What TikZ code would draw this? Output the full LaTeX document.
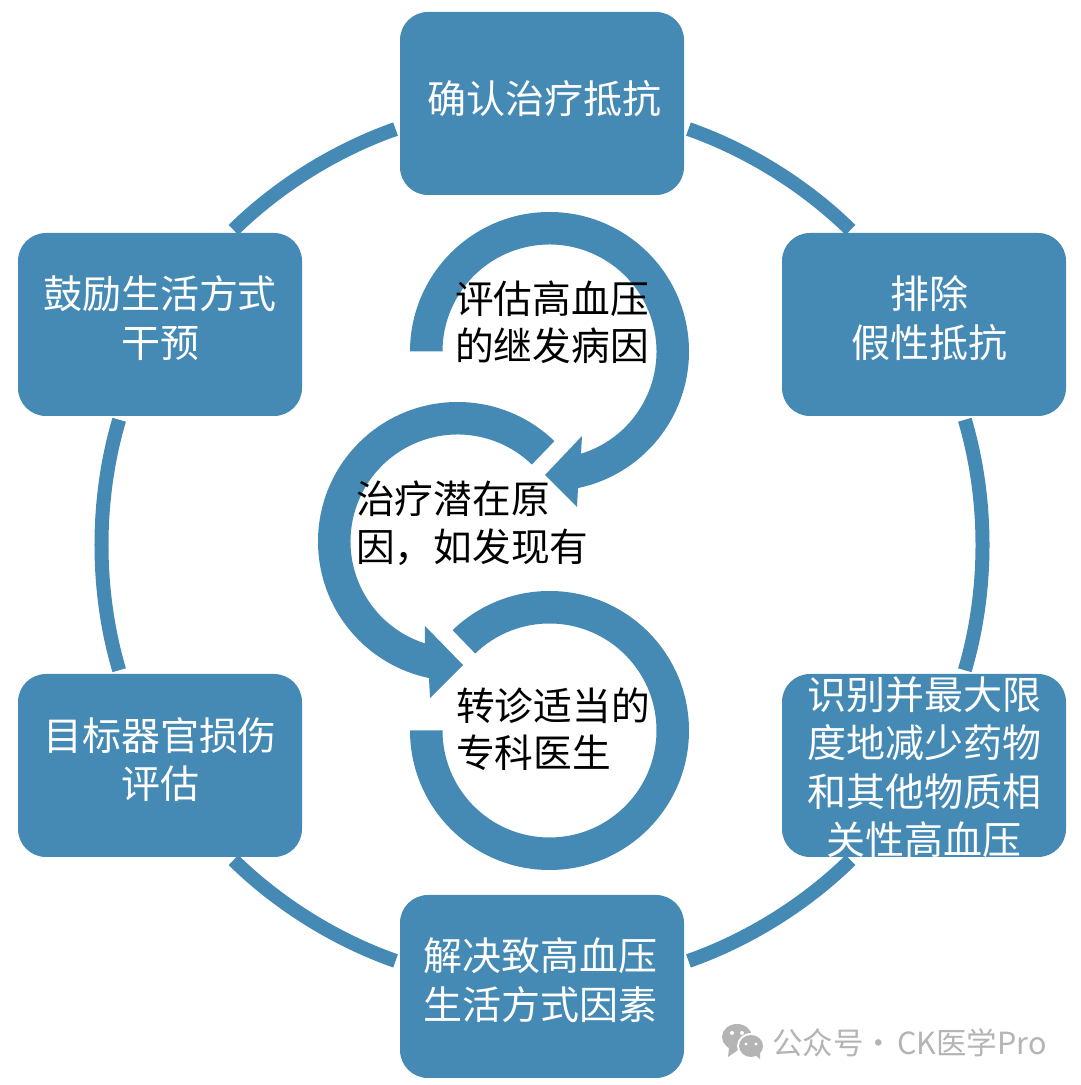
\documentclass[tikz,border=0pt]{standalone}
\usepackage{fontspec}
\setmainfont{Noto Sans CJK SC}
\definecolor{flowblue}{HTML}{4589B5}
\definecolor{markgray}{HTML}{B4B4B4}
\tikzset{
    stagebox/.style={rectangle, rounded corners=28pt, fill=flowblue, text=white, inner sep=0pt,
        minimum width=284pt, minimum height=183pt, align=center,
        font=\fontsize{39}{48.3}\selectfont},
    textlift/.style={execute at end node={\rule[-#1]{0pt}{1pt}}},
    ringlink/.style={draw=flowblue, line width=14pt, looseness=0.85},
    swirl/.style={fill=flowblue},
    swirltext/.style={anchor=west, inner sep=0pt, align=left, text=black,
        font=\fontsize{38.7}{47.5}\selectfont}
}
\begin{document}
\begin{tikzpicture}[x=1pt, y=1pt]
    \useasboundingbox (0, 0) rectangle (1080, 1085);

    % Draw nodes for the outer ring
    \node[stagebox, textlift=13pt] (confirm) at (542, 981.5) {\hspace*{4pt}确认治疗抵抗};
    \node[stagebox, textlift=16pt] (exclude) at (924, 760.5) {\hspace*{11pt}排除\\\hspace*{11pt}假性抵抗};
    \node[stagebox, text depth=0pt] (identify) at (924, 319.5) {识别并最大限\\度地减少药物\\和其他物质相\\关性高血压};
    \node[stagebox, textlift=16pt] (resolve) at (542, 98.5) {解决致高血压\hspace*{3pt}\\生活方式因素\hspace*{3pt}};
    \node[stagebox, textlift=15pt] (assess) at (160, 319.5) {目标器官损伤\\评估};
    \node[stagebox, textlift=16pt] (encourage) at (160, 760.5) {鼓励生活方式\\干预};

    % Draw ends of the ring links
    \coordinate (ring) at (542, 540);
    \coordinate (confirmE) at ([shift={(70.6:441)}]ring);
    \coordinate (excludeN) at ([shift={(45.6:441)}]ring);
    \coordinate (excludeS) at ([shift={(16.5:441)}]ring);
    \coordinate (identifyN) at ([shift={(-16.5:441)}]ring);
    \coordinate (identifyS) at ([shift={(-45.6:441)}]ring);
    \coordinate (resolveE) at ([shift={(-70.6:441)}]ring);
    \coordinate (resolveW) at ([shift={(-109.4:441)}]ring);
    \coordinate (assessS) at ([shift={(-134.4:441)}]ring);
    \coordinate (assessN) at ([shift={(-163.5:441)}]ring);
    \coordinate (encourageS) at ([shift={(163.5:441)}]ring);
    \coordinate (encourageN) at ([shift={(134.4:441)}]ring);
    \coordinate (confirmW) at ([shift={(109.4:441)}]ring);

    % Draw ring links
    \draw[ringlink] (confirmE) to[bend left=12.5] (excludeN);
    \draw[ringlink] (excludeS) to[bend left=16.5] (identifyN);
    \draw[ringlink] (identifyS) to[bend left=12.5] (resolveE);
    \draw[ringlink] (resolveW) to[bend left=12.5] (assessS);
    \draw[ringlink] (assessN) to[bend left=16.5] (encourageS);
    \draw[ringlink] (encourageN) to[bend left=12.5] (confirmW);

    % Draw the three inner swirls
    \coordinate (upper) at (549.5, 733.5);
    \coordinate (middle) at (457.5, 543.5);
    \coordinate (lower) at (549.5, 354.5);
    \fill[swirl] ([shift={(180:139.5)}]upper) arc[start angle=180, end angle=-78.2, radius=139.5pt]
        -- (577, 578) -- (545, 610) -- (582, 649)
        -- ([shift={(-72.9:107)}]upper) arc[start angle=-72.9, end angle=180, radius=107pt] -- cycle;
    \fill[swirl] ([shift={(46:139.5)}]middle) arc[start angle=46, end angle=258.2, radius=139.5pt]
        -- (430, 387) -- (463, 420) -- (425, 459)
        -- ([shift={(252.2:107)}]middle) arc[start angle=252.2, end angle=46, radius=107pt] -- cycle;
    \fill[swirl] ([shift={(180:139.5)}]lower) arc[start angle=180, end angle=494, radius=139.5pt]
        -- ([shift={(494:107)}]lower) arc[start angle=494, end angle=180, radius=107pt] -- cycle;

    % Draw swirl labels
    \node[swirltext] (upperlabel) at (455, 762.5) {评估高血压\\的继发病因};
    \node[swirltext] (middlelabel) at (356, 562) {治疗潜在原\\因，如发现有};
    \node[swirltext] (lowerlabel) at (456, 356) {转诊适当的\\专科医生};

    % Draw watermark
    \fill[markgray] (737, 48) ellipse[x radius=15, y radius=13];
    \fill[markgray] (729, 37) -- (728, 28) -- (738, 35) -- cycle;
    \fill[white] (751, 39) ellipse[x radius=14, y radius=13];
    \fill[markgray] (751, 39) ellipse[x radius=12, y radius=11];
    \fill[markgray] (755, 30) -- (760, 26) -- (760, 33) -- cycle;
    \fill[white] (732, 52) circle[radius=2] (742, 52) circle[radius=2];
    \fill[white] (746, 41) circle[radius=1.7] (756, 41) circle[radius=1.7];
    \node[anchor=west, inner sep=0pt, text=markgray, font=\fontsize{30.5}{34}\selectfont] (mark) at (772, 42) {公众号·\hspace{3pt}CK医学Pro};
\end{tikzpicture}
\end{document}
